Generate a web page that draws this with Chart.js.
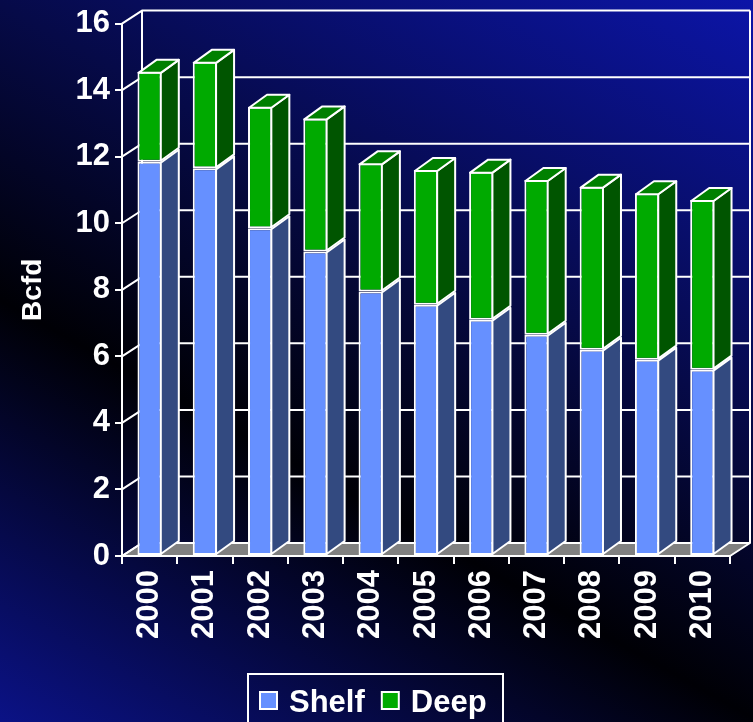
<!DOCTYPE html>
<html>
<head>
<meta charset="utf-8">
<script src="https://cdn.jsdelivr.net/npm/chart.js@4.4.1/dist/chart.umd.min.js"></script>
<style>
    html, body { margin: 0; padding: 0; }
    body {
        width: 753px; height: 722px; overflow: hidden;
        background: linear-gradient(29deg, #0b1286 0%, #000005 37%, #060a48 63%, #0c15a8 100%);
    }
    #wrap { position: relative; width: 753px; height: 722px; }
</style>
</head>
<body>
<div id="wrap"><canvas id="mycanvas"></canvas></div>
<script>
const years = ['2000', '2001', '2002', '2003', '2004', '2005', '2006', '2007', '2008', '2009', '2010'];
const shelf = [11.85, 11.65, 9.85, 9.15, 7.95, 7.55, 7.1, 6.65, 6.2, 5.9, 5.6];
const deep = [2.7, 3.2, 3.65, 4.0, 3.85, 4.05, 4.45, 4.65, 4.9, 5.0, 5.1];
const yMax = 16;
const yStep = 2;

// 3D offsets: back wall and bar depth
const WX = 20, WY = -13;
const BX = 18, BY = -13;

Chart.defaults.font.family = "'Liberation Sans', Arial, sans-serif";
Chart.defaults.font.weight = 'bold';
Chart.defaults.color = '#fff';

const threeD = {
    id: 'threeD',
    beforeDatasetsDraw(chart) {
        const {ctx, chartArea: a, scales: {y}} = chart;
        const y0 = y.getPixelForValue(0);
        const yTop = y.getPixelForValue(yMax);
        ctx.save();
        ctx.strokeStyle = '#fff';
        ctx.lineWidth = 2;
        ctx.lineJoin = 'round';
        // floor
        ctx.beginPath();
        ctx.moveTo(a.left, y0);
        ctx.lineTo(a.right, y0);
        ctx.lineTo(a.right + WX, y0 + WY);
        ctx.lineTo(a.left + WX, y0 + WY);
        ctx.closePath();
        ctx.fillStyle = '#808080';
        ctx.fill();
        ctx.stroke();
        // side wall diagonals + back wall grid
        y.ticks.forEach(t => {
            const py = y.getPixelForValue(t.value);
            ctx.beginPath();
            ctx.moveTo(a.left, py);
            ctx.lineTo(a.left + WX, py + WY);
            ctx.lineTo(a.right + WX, py + WY);
            ctx.stroke();
        });
        ctx.beginPath();
        ctx.moveTo(a.left + WX, y0 + WY);
        ctx.lineTo(a.left + WX, yTop + WY);
        ctx.moveTo(a.right + WX, y0 + WY);
        ctx.lineTo(a.right + WX, yTop + WY);
        ctx.stroke();
        ctx.restore();
    },
    afterDatasetsDraw(chart) {
        const {ctx} = chart;
        const last = chart.data.datasets.length - 1;
        ctx.save();
        ctx.strokeStyle = '#fff';
        ctx.lineWidth = 2;
        ctx.lineJoin = 'round';
        chart.data.datasets.forEach((ds, di) => {
            const meta = chart.getDatasetMeta(di);
            meta.data.forEach(el => {
                const p = el.getProps(['x', 'y', 'base', 'width'], true);
                const l = p.x - p.width / 2 + 1;
                const r = p.x + p.width / 2 - 1;
                const top = Math.min(p.y, p.base) + 1;
                const bot = Math.max(p.y, p.base) - 1;
                ctx.beginPath();
                ctx.moveTo(r, top);
                ctx.lineTo(r + BX, top + BY);
                ctx.lineTo(r + BX, bot + BY);
                ctx.lineTo(r, bot);
                ctx.closePath();
                ctx.fillStyle = ds.sideColor;
                ctx.fill();
                ctx.stroke();
                if (di === last) {
                    ctx.beginPath();
                    ctx.moveTo(l, top);
                    ctx.lineTo(l + BX, top + BY);
                    ctx.lineTo(r + BX, top + BY);
                    ctx.lineTo(r, top);
                    ctx.closePath();
                    ctx.fillStyle = ds.topColor;
                    ctx.fill();
                    ctx.stroke();
                }
            });
        });
        ctx.restore();
    },
    afterDraw(chart) {
        // boxed legend at the bottom
        const {ctx} = chart;
        ctx.save();
        ctx.strokeStyle = '#fff';
        ctx.lineWidth = 2;
        ctx.strokeRect(248, 674, 255, 60);
        ctx.font = "bold 31px 'Liberation Sans', Arial, sans-serif";
        ctx.textBaseline = 'alphabetic';
        let x = 260;
        chart.data.datasets.forEach(ds => {
            ctx.fillStyle = ds.backgroundColor;
            ctx.fillRect(x, 692, 17, 17);
            ctx.strokeRect(x, 692, 17, 17);
            ctx.fillStyle = '#fff';
            ctx.fillText(ds.label, x + 29, 712);
            x += 29 + ctx.measureText(ds.label).width + 17;
        });
        ctx.restore();
    }
};

const ctx = document.getElementById('mycanvas').getContext('2d');
const myChart = new Chart(ctx, {
    type: 'bar',
    data: {
        labels: years,
        datasets: [{
            label: 'Shelf',
            data: shelf,
            backgroundColor: '#6690ff',
            sideColor: '#334a80',
            topColor: '#4d6cc0',
            borderColor: '#fff',
            borderWidth: 2,
            borderSkipped: false,
            categoryPercentage: 1,
            barPercentage: 0.44
        }, {
            label: 'Deep',
            data: deep,
            backgroundColor: '#00aa00',
            sideColor: '#005500',
            topColor: '#008000',
            borderColor: '#fff',
            borderWidth: 2,
            borderSkipped: false,
            categoryPercentage: 1,
            barPercentage: 0.44
        }]
    },
    options: {
        responsive: true,
        maintainAspectRatio: false,
        animation: { duration: 0 },
        layout: { padding: { left: 0, top: 21, right: 23, bottom: 0 } },
        plugins: {
            legend: { display: false },
            tooltip: { enabled: false }
        },
        scales: {
            x: {
                stacked: true,
                afterFit: s => { s.height = 166; },
                grid: { drawOnChartArea: false, color: '#fff', lineWidth: 2, tickLength: 8, offset: true },
                border: { color: '#fff', width: 2 },
                ticks: { color: '#fff', font: { size: 31, weight: 'bold' }, minRotation: 90, maxRotation: 90, padding: 6 }
            },
            y: {
                stacked: true,
                min: 0,
                max: yMax,
                afterFit: s => { s.width = 122; },
                grid: { drawOnChartArea: false, color: '#fff', lineWidth: 2, tickLength: 7 },
                border: { color: '#fff', width: 2 },
                ticks: { stepSize: yStep, color: '#fff', font: { size: 31, weight: 'bold' }, padding: 5 },
                title: { display: true, text: 'Bcfd', color: '#fff', font: { size: 28, weight: 'bold' }, padding: { top: 16, bottom: 0 } }
            }
        }
    },
    plugins: [threeD]
});
</script>
</body>
</html>
